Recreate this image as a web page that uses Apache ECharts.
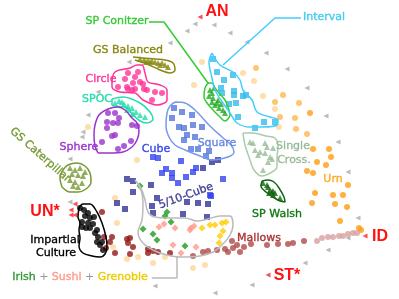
<!DOCTYPE html>
<html><head><meta charset="utf-8">
<script src="https://cdn.jsdelivr.net/npm/echarts@6/dist/echarts.min.js"></script>
<style>html,body{margin:0;padding:0;background:#fff}#c{width:399px;height:299px}</style>
</head><body><div id="c"></div>
<script>
// ---- data (coordinates in the map's own plane) ----
const pathMarks = [[195,24],[187,31],[170,43],[129,62],[98,92],[88,115],[83,132],[82,137],[70,159],
  [214,25],[230,33],[247,42],[266,53],[287,69],[307,88],[326,116],[338,142],[348,172],[358,218],
  [348,238],[328,250],[305,263],[252,285],[215,293],[155,286],[70,202]];
const redMarks = [[200,17],[365,236],[268,275],[75,204],[71,210],[71,215],[75,215]];
const conitzer = [[210,90],[212,93],[209,96],[213,98],[212,102],[217,103],[215,105],[221,104],[219,108],[223,110],[225,113],[218,100],[214,88]];
const interval = [[213,59],[217,72],[233,75],[224,80],[221,88],[234,91],[222,93],[234,95],[243,96],[246,95],[229,104],[236,103],[238,117],[255,128],[264,122],[275,122]];
const gsBalanced = [[140,59],[144,60],[148,61],[152,61],[155,62],[158,63],[162,63],[165,65],[168,67],[160,65],[150,62],[146,62]];
const circle = [[138,72],[128,73],[135,77],[140,82],[133,83],[143,84],[127,87],[128,89],[132,90],[135,89],[147,90],[155,92],[162,93],[152,100],[125,79],[118,87],[144,89]];
const spoc = [[115,103],[119,101],[124,104],[128,106],[132,108],[136,112],[133,114],[140,115],[145,117],[127,110],[122,102]];
const sphere = [[108,113],[115,113],[119,118],[107,122],[113,123],[118,123],[107,128],[115,135],[112,136],[131,141],[102,142],[124,146],[118,149],[137,126],[132,125]];
const gsCaterpillar = [[70,168],[75,170],[80,168],[72,174],[78,175],[83,176],[70,180],[75,182],[82,183],[73,186],[78,187],[85,172]];
const square = [[174,108],[182,112],[192,115],[172,118],[179,127],[184,128],[193,125],[202,127],[187,135],[184,140],[195,137],[191,149],[198,149],[206,156],[209,151]];
const cube = [[153,157],[158,158],[166,169],[162,173],[172,173],[172,178],[178,183],[186,177],[193,172],[196,168],[211,196],[223,179],[210,195],[181,161]];
const cube510 = [[127,179],[133,181],[133,192],[151,185],[117,203],[125,209],[157,198],[152,206],[153,213],[187,202],[198,203],[208,204],[183,214],[207,217],[203,168],[212,162],[218,160]];
const singleCross = [[250,142],[253,143],[265,143],[267,147],[255,150],[260,152],[265,153],[258,155],[270,157],[272,159],[268,162],[263,170],[273,148]];
const spWalsh = [[263,183],[268,187],[270,190],[272,192],[273,191],[269,193],[273,195],[275,193],[280,198],[267,185]];
const ic = [[80,208],[84,210],[88,213],[85,216],[90,218],[94,217],[82,222],[88,223],[93,224],[82,227],[86,228],[90,228],[97,230],[95,233],[98,237],[97,242],[102,242],[103,250],[100,245]];
const irish = [[140,186],[167,212],[165,216],[171,222],[143,229],[153,234],[157,240],[185,246]];
const sushi = [[159,227],[164,224],[175,228],[191,228],[194,226],[190,230],[173,245],[181,253],[196,247]];
const grenoble = [[202,228],[210,225],[215,225],[222,223],[226,222],[223,231],[220,236],[219,243]];
const urnPale = [[88,127],[137,160],[115,198],[117,223],[113,247],[127,259],[138,257],[153,263],[165,257],[193,268],[205,265],[194,85],[202,62],[243,73],[254,81],[263,96],[275,109],[279,127]];
const urnMid = [[256,68],[283,95],[275,102],[280,117],[295,118],[296,129],[299,103],[307,134]];
const urnDark = [[310,113],[313,149],[329,149],[331,157],[317,162],[326,165],[307,171],[313,173],[348,185],[315,193],[333,195],[343,195],[312,203],[335,204],[347,207],[340,221],[359,228],[361,230]];
const mallowsDark = [[102,212],[104,237],[110,242],[106,248],[115,253],[112,237],[127,239],[130,238],[128,243],[133,247],[130,254],[148,249],[153,251],[148,253],[158,252],[170,253]];
const mallowsMid = [[193,256],[203,252],[208,251],[217,250],[225,249],[228,252],[233,248],[232,241],[237,245],[240,252],[244,247],[251,244],[267,245],[278,244],[288,244],[293,243],[304,241]];
const mallowsLight = [[317,241],[322,238],[328,237],[333,237],[339,236],[343,236],[348,234],[353,233],[357,233]];

// outlines and leaders
const conitzerOutline = [[208,83],[212,83],[215,88],[219,93],[225,100],[228,107],[230,115],[228,119],[225,121],[220,117],[213,110],[207,103],[204,97],[205,88],[208,83]];
const conitzerLeader = [[149,22],[164,22],[208,83]];
const intervalOutline = [[212,53],[220,65],[233,72],[240,80],[243,90],[252,100],[257,112],[270,117],[278,120],[277,125],[263,127],[250,127],[237,123],[230,113],[223,103],[215,90],[212,78],[209,62],[212,53]];
const intervalLeader = [[301,18],[275,18],[223,65]];
const gsBalancedOutline = [[133,57],[142,58],[155,59],[165,60],[173,63],[175,70],[170,73],[160,70],[147,64],[135,60]];
const circleOutline = [[112,82],[115,72],[130,68],[137,65],[142,65],[145,73],[148,82],[160,85],[167,90],[167,100],[157,105],[143,100],[135,93],[120,92],[112,87],[112,82]];
const spocOutline = [[112,99],[123,97],[140,103],[150,112],[153,119],[147,123],[140,121],[133,115],[127,108],[115,106],[112,105],[112,99]];
const sphereOutline = [[98,153],[95,146],[94,135],[95,125],[99,115],[108,109],[118,107],[125,110],[132,118],[137,123],[139,131],[137,140],[132,147],[123,152],[110,153],[98,153]];
const caterpillarOutline = [[62,187],[60,178],[63,170],[68,165],[77,163],[85,166],[90,173],[91,182],[86,189],[78,192],[70,192],[62,187]];
const squareOutline = [[175,102],[185,103],[195,110],[210,126],[222,137],[231,145],[234,152],[228,157],[212,160],[200,156],[185,150],[175,145],[169,137],[166,126],[167,113],[170,106],[175,102]];
const irishOutline = [[135,180],[141,190],[143,203],[142,220],[138,232],[143,243],[155,251],[167,255],[180,257],[200,256],[213,252],[223,244],[230,235],[233,225],[230,216],[220,216],[208,219],[197,221],[185,218],[170,218],[155,217],[148,212],[145,200],[141,188],[135,180]];
const irishLeader = [[152,278],[177,278],[177,257]];
const singleCrossOutline = [[243,133],[253,133],[266,136],[275,138],[278,147],[277,158],[277,167],[272,172],[262,176],[254,170],[249,157],[245,145],[243,133]];
const walshOutline = [[262,181],[268,180],[274,182],[279,188],[284,197],[285,202],[280,201],[273,197],[266,192],[261,186],[262,181]];
const icOutline = [[79,208],[83,204],[90,204],[97,212],[102,223],[106,237],[107,247],[105,254],[100,257],[92,256],[83,253],[79,246],[80,238],[79,230],[80,223],[78,217],[79,208]];

// ---- chart ----
function sc(data, symbol, color, size, extra) {
  return Object.assign({type:'scatter', data, symbol, symbolSize:size, itemStyle:{color}, silent:true, animation:false}, extra||{});
}
function ln(data, color, width, smooth) {
  return {type:'line', data, symbol:'none', smooth: smooth===undefined?0.35:smooth, lineStyle:{color, width:width||1.5}, silent:true, animation:false, z:3};
}
const F = 'DejaVu Sans, sans-serif';
function txt(x, y, text, fill, size, rot, bold, family) {
  return {type:'text', x, y, rotation: rot||0, style:{text, fill, stroke: bold?null:fill, lineWidth: bold?0:0.35, font:(bold?'bold ':'')+(size||11)+'px '+(family||F), align:'center', verticalAlign:'middle'}, z:10};
}
const chart = echarts.init(document.getElementById('c'), null, {renderer:'canvas'});
chart.setOption({
  animation:false,
  grid:{left:0,right:0,top:0,bottom:0},
  xAxis:{type:'value',min:0,max:399,show:false},
  yAxis:{type:'value',min:0,max:299,inverse:true,show:false},
  series:[
    sc(pathMarks,'triangle','#aaaaaa',5,{symbolRotate:90}),
    sc(redMarks,'triangle','#ff2222',5,{symbolRotate:90}),
    sc(urnPale,'circle','#ffd69a',6),
    sc(urnMid,'circle','#ffb84d',6),
    sc(urnDark,'circle','#ff9c10',6),
    sc(mallowsDark,'circle','#921818',6),
    sc(mallowsMid,'circle','#b04848',6),
    sc(mallowsLight,'circle','#d8a0a0',6),
    sc(conitzer,'triangle','#22aa22',6),
    sc(interval,'rect','#33bbee',6),
    sc(gsBalanced,'triangle','#888811',6),
    sc(circle,'circle','#ff3399',6),
    sc(spoc,'triangle','#22ddaa',6),
    sc(sphere,'circle','#9933cc',6),
    sc(gsCaterpillar,'triangle','#779933',6),
    sc(square,'rect','#5577dd',6),
    sc(cube,'rect','#3344ee',6),
    sc(cube510,'rect','#333399',6),
    sc(singleCross,'triangle','#99bb99',6),
    sc(spWalsh,'triangle','#116611',6),
    sc(ic,'circle','#000000',6),
    sc(irish,'diamond','#229922',7),
    sc(sushi,'diamond','#ff9988',7),
    sc(grenoble,'diamond','#ffcc00',7),
    ln(conitzerOutline,'#33cc33'), ln(conitzerLeader,'#33cc33',1.5,false),
    ln(intervalOutline,'#44ccff'), ln(intervalLeader,'#44ccff',1.5,false),
    ln(gsBalancedOutline,'#888811'),
    ln(circleOutline,'#ff3399'),
    ln(spocOutline,'#22ddaa'),
    ln(sphereOutline,'#9933cc'),
    ln(caterpillarOutline,'#779933'),
    ln(squareOutline,'#7799ee'),
    ln(irishOutline,'#bbbbbb'), ln(irishLeader,'#bbbbbb',1.5,false),
    ln(singleCrossOutline,'#aaccaa'),
    ln(walshOutline,'#116611'),
    ln(icOutline,'#000000')
  ],
  graphic:[
    txt(117,21,'SP Conitzer','#33cc33'),
    txt(217,12,'AN','#ff1111',16,0,true,'Liberation Sans, Arial, sans-serif'),
    txt(324,17,'Interval','#44ccee'),
    txt(128,50,'GS Balanced','#888811'),
    txt(101,79,'Circle','#ff3399'),
    txt(97,99,'SPOC','#22ddaa'),
    txt(79,147,'Sphere','#9933cc'),
    txt(156,149,'Cube','#3344ee'),
    txt(217,143,'Square','#6688dd'),
    txt(293,146,'Single','#99bb99'),
    txt(294,160,'Cross.','#99bb99'),
    txt(333,179,'Urn','#ffaa22'),
    txt(277,214,'SP Walsh','#117711'),
    txt(259,238,'Mallows','#aa3333'),
    txt(380,237,'ID','#ff1111',16,0,true,'Liberation Sans, Arial, sans-serif'),
    txt(287,276,'ST*','#ff1111',16,0,true,'Liberation Sans, Arial, sans-serif'),
    txt(45,212,'UN*','#ff1111',16,0,true,'Liberation Sans, Arial, sans-serif'),
    txt(55,240,'Impartial','#000000'),
    txt(56,253,'Culture','#000000'),
    txt(40,155,'GS Caterpillar','#779933',11,-0.72),
    txt(186,196,'5/10-Cube','#444499',11,0.35),
    {type:'text', x:80, y:277, z:10, style:{text:'{a|Irish} {p|+} {b|Sushi} {p|+} {c|Grenoble}', font:'11px '+F, align:'center', verticalAlign:'middle',
      rich:{a:{fill:'#339933',stroke:'#339933',lineWidth:0.35,font:'11px '+F},p:{fill:'#999999',font:'11px '+F},b:{fill:'#ff9988',stroke:'#ff9988',lineWidth:0.35,font:'11px '+F},c:{fill:'#eecc00',stroke:'#eecc00',lineWidth:0.35,font:'11px '+F}}}}
  ]
});
</script></body></html>
